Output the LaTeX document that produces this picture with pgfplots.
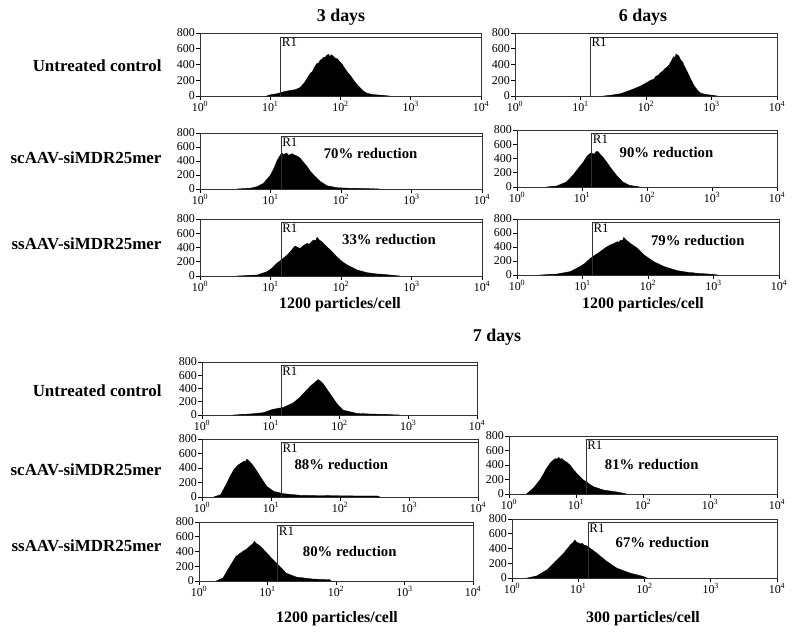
\documentclass[border=0pt]{standalone}
\usepackage{pgfplots}
\pgfplotsset{compat=1.18}
\usepackage{fontspec}
\setmainfont{Liberation Serif}
\pgfplotsset{
  panel/.style={
    scale only axis, anchor=south west,
    xmin=0, xmax=4, ymin=0, ymax=800,
    xtick={0,1,2,3,4},
    xticklabels={10\textsuperscript{0},10\textsuperscript{1},10\textsuperscript{2},10\textsuperscript{3},10\textsuperscript{4}},
    ytick={0,200,400,600,800},
    tick align=outside, tick pos=left,
    major tick length=4bp,
    axis line style={line width=0.8bp, black!80},
    every tick/.style={black, line width=0.6bp},
    tick label style={font=\fontsize{12}{12}\selectfont},
    yticklabel style={inner sep=1bp},
    xticklabel style={inner sep=1.5bp},
    /pgf/number format/assume math mode=true,
    clip=false,
  },
  hist/.style={fill=black, draw=black, line width=0.3bp},
}
\newcommand{\gate}{%
  \draw[line width=0.8bp, black!80] (axis cs:1.15,0) -- (axis cs:1.15,750) -- (axis cs:4,750);
  \node[anchor=north west, inner sep=1bp, font=\fontsize{13}{13}\selectfont] at (axis cs:1.15,750) {R1};}
\newcommand{\red}[3]{\node[font=\bfseries\fontsize{14.8}{14.8}\selectfont] at (axis cs:#1,#2) {#3};}
\begin{document}
\begin{tikzpicture}
\path[use as bounding box] (0bp,0bp) rectangle (800bp,633bp);
\tikzset{lab/.style={font=\bfseries\fontsize{17}{17}\selectfont},
         ttl/.style={font=\bfseries\fontsize{18}{18}\selectfont},
         part/.style={font=\bfseries\fontsize{16}{16}\selectfont}}
% titles
\node[ttl] at (341bp,616bp) {3 days};
\node[ttl] at (643bp,616bp) {6 days};
\node[part] at (340bp,328bp) {1200 particles/cell};
\node[part] at (643bp,328bp) {1200 particles/cell};
\node[ttl] at (497bp,296bp) {7 days};
\node[part] at (337bp,14bp) {1200 particles/cell};
\node[part] at (643bp,14bp) {300 particles/cell};
% row labels
\node[lab, anchor=east] at (165bp,567bp) {Untreated control};
\node[lab, anchor=east] at (165bp,475bp) {scAAV-siMDR25mer};
\node[lab, anchor=east] at (165bp,389bp) {ssAAV-siMDR25mer};
\node[lab, anchor=east] at (165bp,242bp) {Untreated control};
\node[lab, anchor=east] at (165bp,163bp) {scAAV-siMDR25mer};
\node[lab, anchor=east] at (165bp,87bp) {ssAAV-siMDR25mer};

% A: 3 days untreated
\begin{axis}[panel, at={(200bp,537bp)}, width=281bp, height=63bp]
\addplot[hist] coordinates {(0.95,0) (1.0,15) (1.1,30) (1.19,55) (1.28,70) (1.36,82) (1.42,105) (1.47,150) (1.52,215) (1.57,290) (1.6,310) (1.62,350) (1.66,410) (1.69,420) (1.71,455) (1.74,470) (1.76,495) (1.78,485) (1.8,515) (1.83,530) (1.85,500) (1.87,525) (1.89,510) (1.91,490) (1.93,480) (1.96,470) (1.99,435) (2.02,410) (2.05,365) (2.08,330) (2.1,300) (2.14,260) (2.2,185) (2.25,130) (2.28,105) (2.33,60) (2.37,38) (2.45,20) (2.6,8) (2.7,0)} \closedcycle;
\gate
\end{axis}
% B: 6 days untreated
\begin{axis}[panel, at={(515bp,537bp)}, width=262bp, height=63bp]
\addplot[hist] coordinates {(1.35,0) (1.45,8) (1.61,30) (1.76,73) (1.84,100) (1.91,124) (2.0,165) (2.07,200) (2.12,215) (2.15,250) (2.19,265) (2.22,295) (2.26,320) (2.29,350) (2.32,365) (2.35,393) (2.37,420) (2.39,450) (2.42,500) (2.44,490) (2.46,535) (2.48,520) (2.5,510) (2.53,458) (2.56,430) (2.58,390) (2.63,308) (2.68,220) (2.73,137) (2.78,80) (2.83,38) (2.9,22) (2.98,13) (3.09,0)} \closedcycle;
\gate
\end{axis}
% C: 3 days sc
\begin{axis}[panel, at={(200bp,444bp)}, width=282bp, height=56bp]
\addplot[hist] coordinates {(0.52,0) (0.6,5) (0.71,10) (0.81,34) (0.9,81) (0.95,140) (1.0,200) (1.05,300) (1.09,400) (1.13,470) (1.16,517) (1.18,495) (1.2,500) (1.23,512) (1.26,480) (1.28,495) (1.31,505) (1.33,490) (1.36,478) (1.38,470) (1.42,440) (1.47,380) (1.52,321) (1.56,260) (1.61,201) (1.66,150) (1.71,105) (1.8,48) (1.94,19) (2.13,10) (2.5,3) (2.55,0)} \closedcycle;
\gate
\red{2.42}{514}{70\% reduction}
\end{axis}
% D: 3 days ss
\begin{axis}[panel, at={(200bp,357bp)}, width=282bp, height=57bp]
\addplot[hist] coordinates {(0.52,0) (0.65,6) (0.81,14) (0.95,61) (1.02,110) (1.09,178) (1.18,248) (1.23,290) (1.28,341) (1.32,390) (1.35,421) (1.39,400) (1.42,388) (1.47,430) (1.52,458) (1.55,445) (1.57,470) (1.61,505) (1.64,495) (1.66,543) (1.68,520) (1.7,500) (1.73,480) (1.75,458) (1.8,410) (1.85,365) (1.94,271) (2.02,200) (2.09,154) (2.23,84) (2.37,47) (2.5,30) (2.61,23) (2.75,8) (2.84,0)} \closedcycle;
\gate
\red{2.68}{515}{33\% reduction}
\end{axis}
% E: 6 days sc
\begin{axis}[panel, at={(517bp,446bp)}, width=260bp, height=57bp]
\addplot[hist] coordinates {(0.45,0) (0.61,14) (0.76,70) (0.86,165) (0.96,282) (1.02,350) (1.07,423) (1.11,460) (1.14,480) (1.16,470) (1.19,461) (1.22,500) (1.25,494) (1.28,460) (1.32,423) (1.38,350) (1.43,282) (1.53,165) (1.63,70) (1.73,24) (1.89,0)} \closedcycle;
\gate
\red{2.3}{485}{90\% reduction}
\end{axis}
% F: 6 days ss
\begin{axis}[panel, at={(517bp,358bp)}, width=262bp, height=56bp]
\addplot[hist] coordinates {(0.35,0) (0.61,14) (0.81,48) (0.96,119) (1.04,170) (1.12,238) (1.2,290) (1.27,333) (1.35,390) (1.42,429) (1.48,450) (1.53,476) (1.56,470) (1.58,500) (1.61,490) (1.63,538) (1.66,510) (1.68,490) (1.73,452) (1.78,420) (1.84,381) (1.94,286) (2.09,190) (2.25,119) (2.45,62) (2.6,40) (2.76,24) (2.95,12) (3.07,0)} \closedcycle;
\gate
\red{2.76}{500}{79\% reduction}
\end{axis}
% G: 7 days untreated
\begin{axis}[panel, at={(202bp,218bp)}, width=275bp, height=53bp]
\addplot[hist] coordinates {(0.45,0) (0.69,15) (0.89,35) (1.03,85) (1.18,115) (1.26,150) (1.33,185) (1.42,265) (1.47,320) (1.52,375) (1.57,430) (1.62,475) (1.64,490) (1.66,510) (1.69,535) (1.71,520) (1.72,515) (1.76,475) (1.81,400) (1.86,325) (1.91,250) (1.96,175) (2.05,75) (2.25,25) (2.45,15) (2.64,10) (2.88,0)} \closedcycle;
\gate
\end{axis}
% H: 7 days sc 1200
\begin{axis}[panel, at={(202bp,136bp)}, width=276bp, height=58bp]
\addplot[hist] coordinates {(0.17,0) (0.27,32) (0.36,192) (0.41,290) (0.46,375) (0.51,430) (0.56,466) (0.59,480) (0.61,495) (0.63,490) (0.65,521) (0.68,500) (0.7,480) (0.75,421) (0.8,350) (0.85,274) (0.94,146) (1.04,78) (1.18,46) (1.43,23) (1.91,18) (2.2,15) (2.54,14) (2.58,0)} \closedcycle;
\gate
\red{2.02}{452}{88\% reduction}
\end{axis}
% I: 7 days ss 1200
\begin{axis}[panel, at={(199bp,52bp)}, width=274bp, height=59bp]
\addplot[hist] coordinates {(0.25,0) (0.35,41) (0.45,199) (0.54,335) (0.64,402) (0.69,430) (0.74,470) (0.78,500) (0.81,538) (0.83,515) (0.85,500) (0.89,479) (0.98,389) (1.08,289) (1.18,199) (1.27,108) (1.42,54) (1.66,27) (1.91,18) (1.93,0)} \closedcycle;
\gate
\red{2.2}{402}{80\% reduction}
\end{axis}
% J: 7 days sc 300
\begin{axis}[panel, at={(509bp,139bp)}, width=268bp, height=58bp]
\addplot[hist] coordinates {(0.26,0) (0.36,78) (0.46,193) (0.51,270) (0.56,354) (0.61,420) (0.66,469) (0.7,490) (0.72,480) (0.74,506) (0.77,480) (0.79,490) (0.81,469) (0.86,440) (0.91,400) (0.96,340) (1.01,285) (1.11,193) (1.26,101) (1.41,55) (1.61,28) (1.76,0)} \closedcycle;
\gate
\red{2.13}{414}{81\% reduction}
\end{axis}
% K: 7 days ss 300
\begin{axis}[panel, at={(512bp,55bp)}, width=265bp, height=59bp]
\addplot[hist] coordinates {(0.23,0) (0.38,31) (0.53,112) (0.68,247) (0.78,337) (0.88,449) (0.92,480) (0.95,517) (0.97,490) (0.99,480) (1.03,463) (1.06,470) (1.08,450) (1.13,436) (1.2,390) (1.28,337) (1.43,225) (1.58,135) (1.78,67) (1.98,22) (2.04,0)} \closedcycle;
\gate
\red{2.27}{481}{67\% reduction}
\end{axis}
\end{tikzpicture}
\end{document}
